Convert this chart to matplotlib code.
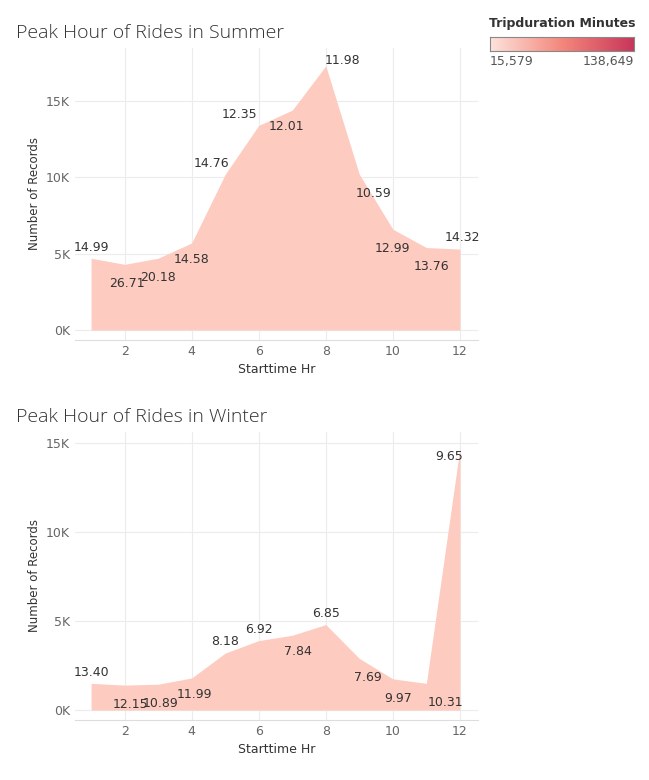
import matplotlib
matplotlib.use("Agg")
import matplotlib.pyplot as plt
import numpy as np
from matplotlib.colors import LinearSegmentedColormap

hours = list(range(1, 13))
summer_records = [4700, 4300, 4700, 5700, 10200, 13400, 14400, 17300, 10200, 6600, 5400, 5300]
summer_labels = ["14.99", "26.71", "20.18", "14.58", "14.76", "12.35", "12.01", "11.98", "10.59", "12.99", "13.76", "14.32"]
winter_records = [1500, 1400, 1450, 1800, 3200, 3900, 4200, 4800, 2900, 1750, 1500, 14700]
winter_labels = ["13.40", "12.15", "10.89", "11.99", "8.18", "6.92", "7.84", "6.85", "7.69", "9.97", "10.31", "9.65"]

summer_off = [(0, 8), (2, -14), (0, -14), (0, -12), (-10, 8), (-14, 8), (-4, -12), (12, 4), (10, -14), (0, -14), (4, -14), (2, 8)]
winter_off = [(0, 8), (4, -14), (2, -14), (2, -12), (0, 8), (0, 8), (4, -12), (0, 8), (6, -14), (4, -14), (14, -14), (-8, -6)]

fill = "#fdcbc0"
W, H = 649, 780
fig = plt.figure(figsize=(W/100, H/100), dpi=100)

def make(ax_box, vals, labels, offs, title, yticks, ymax, ybottom_pad):
    l, t, r, b = ax_box
    ax = fig.add_axes([l/W, 1-b/H, (r-l)/W, (b-t)/H])
    ax.fill_between(hours, vals, 0, color=fill, lw=0)
    ax.set_xlim(0.52, 12.54)
    ax.set_ylim(-ybottom_pad, ymax)
    ax.set_xticks([2, 4, 6, 8, 10, 12])
    ax.set_yticks(yticks)
    ax.set_yticklabels([f"{int(v/1000)}K" for v in yticks])
    ax.grid(True, color="#ececec", lw=0.8)
    ax.set_axisbelow(True)
    for s in ax.spines.values():
        s.set_visible(False)
    ax.spines["bottom"].set_visible(True)
    ax.spines["bottom"].set_color("#dddddd")
    ax.tick_params(length=0, colors="#666666", labelsize=9)
    ax.set_xlabel("Starttime Hr", fontsize=9, color="#333333")
    ax.set_ylabel("Number of Records", fontsize=8.5, color="#333333")
    for x, v, lab, (dx, dy) in zip(hours, vals, labels, offs):
        ax.annotate(lab, (x, v), xytext=(dx, dy), textcoords="offset points",
                    ha="center", va="center", fontsize=9, color="#333333")
    fig.text(16/W, 1-(t-15)/H, title, fontsize=14, color="#333333", va="center",
             fontweight="light", family="Open Sans")
    return ax

make((75, 48, 478, 340), summer_records, summer_labels, summer_off,
     "Peak Hour of Rides in Summer", [0, 5000, 10000, 15000], 18470, 655)
make((75, 432, 478, 720), winter_records, winter_labels, winter_off,
     "Peak Hour of Rides in Winter", [0, 5000, 10000, 15000], 15620, 560)

fig.text(489/W, 1-24/H, "Tripduration Minutes", fontsize=9, color="#333333", fontweight="bold", va="center")
cax = fig.add_axes([490/W, 1-51/H, 144/W, 14/H])
cmap = LinearSegmentedColormap.from_list("c", ["#fde3dc", "#f4877c", "#c8365a"])
cax.imshow(np.linspace(0, 1, 256)[None, :], aspect="auto", cmap=cmap)
cax.set_xticks([]); cax.set_yticks([])
for s in cax.spines.values():
    s.set_color("#888888")
fig.text(490/W, 1-62/H, "15,579", fontsize=9, color="#555555", va="center")
fig.text(634/W, 1-62/H, "138,649", fontsize=9, color="#555555", va="center", ha="right")

fig.savefig("out.png", dpi=100, facecolor="white")
